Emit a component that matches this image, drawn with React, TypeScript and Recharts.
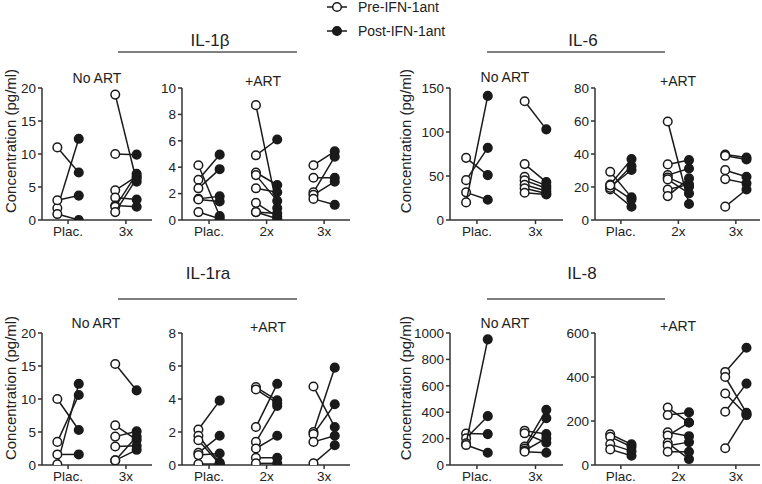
import { ScatterChart, Scatter, XAxis, YAxis } from 'recharts'

// group labels
const NO_ART_GROUPS = ['Plac.', '3x']
const ART_GROUPS = ['Plac.', '2x', '3x']

// y ticks
const IL1B_NOART_TICKS = [0, 5, 10, 15, 20]
const IL1B_ART_TICKS = [0, 2, 4, 6, 8, 10]
const IL6_NOART_TICKS = [0, 50, 100, 150]
const IL6_ART_TICKS = [0, 20, 40, 60, 80]
const IL1RA_NOART_TICKS = [0, 5, 10, 15, 20]
const IL1RA_ART_TICKS = [0, 2, 4, 6, 8]
const IL8_NOART_TICKS = [0, 200, 400, 600, 800, 1000]
const IL8_ART_TICKS = [0, 200, 400, 600]

// paired values per group: pre[g][i] -> post[g][i]
const IL1B_NOART_PRE = [[11.0, 1.8, 3.0, 0.9], [19.0, 10.0, 4.5, 3.4, 2.2, 2.0, 1.2]]
const IL1B_NOART_POST = [[7.2, 12.3, 3.7, 0.0], [5.8, 9.9, 6.6, 3.1, 2.0, 7.0, 6.3]]

const IL1B_ART_PRE = [[4.15, 3.05, 2.4, 1.6, 1.55, 0.6], [8.7, 4.9, 3.6, 3.4, 2.4, 1.3, 0.6, 0.6], [4.15, 3.2, 2.1, 1.9, 1.6]]
const IL1B_ART_POST = [[0.3, 4.95, 3.85, 1.8, 1.4, 0.1], [0.9, 6.1, 2.65, 1.45, 2.1, 0.25, 0.5, 0.1], [5.2, 3.2, 4.8, 2.9, 1.15]]

const IL6_NOART_PRE = [[70.6, 45.3, 31.4, 20.0], [135, 63.5, 49, 45, 40, 36, 31]]
const IL6_NOART_POST = [[51, 82, 23, 141], [103, 43, 39, 36, 33, 30, 29]]

const IL6_ART_PRE = [[29.2, 21.5, 20.0, 18.5, 19.5, 21.0], [59.7, 33.7, 27.2, 25.8, 24.6, 18.5, 14.5], [39.7, 38.9, 30.2, 24.8, 8.1]]
const IL6_ART_POST = [[13.7, 36.9, 30.3, 8.0, 32.7, 12.5], [9.7, 36.3, 31.2, 20.2, 16.1, 21.6, 25.2], [37.9, 36.7, 26.2, 22.2, 18.5]]

const IL1RA_NOART_PRE = [[10.0, 3.5, 0.1, 1.6], [15.3, 6.0, 4.3, 2.8, 0.7, 0.7]]
const IL1RA_NOART_POST = [[5.3, 10.6, 12.3, 1.6], [11.3, 3.8, 5.1, 2.9, 2.3, 4.3]]

const IL1RA_ART_PRE = [[2.15, 1.77, 1.5, 0.74, 0.6, 0.06], [4.72, 4.58, 2.3, 1.4, 1.0, 0.44, 0.1], [4.76, 2.0, 1.87, 1.4, 0.1]]
const IL1RA_ART_POST = [[3.9, 0.14, 0.06, 1.77, 0.7, 0.06], [3.92, 3.75, 4.92, 3.58, 1.77, 0.44, 0.1], [2.3, 5.9, 3.68, 1.77, 1.2]]

const IL8_NOART_PRE = [[239, 202, 164, 151], [260, 240, 140, 125, 110, 100]]
const IL8_NOART_POST = [[234, 370, 952, 93], [234, 169, 418, 355, 202, 93]]

const IL8_ART_PRE = [[140, 128, 95, 71], [261, 227, 149, 134, 101, 88, 60], [423, 400, 325, 242, 76]]
const IL8_ART_POST = [[94, 83, 63, 42], [193, 239, 131, 193, 27, 104, 60], [533, 237, 227, 370, 230]]

const INK = '#1a1a1a'
const AXIS = '#333'
const FONT = '"Liberation Sans", Arial, Helvetica, sans-serif'
const OFF = 0.185
const YW = 44
const PLOT_H = 132

function Dot(props: any) {
  const { cx, cy, payload } = props
  if (cx == null || cy == null) return null
  return (
    <circle cx={cx} cy={cy} r={4.3} fill={payload.post ? INK : '#fff'} stroke={INK} strokeWidth={1.5} />
  )
}

interface PanelProps {
  x: number
  y: number
  w: number
  domain: [number, number]
  groups: string[]
  ticks: number[]
  pre: number[][]
  post: number[][]
}

function Panel({ x, y, w, domain, groups, ticks, pre, post }: PanelProps) {
  const pairs = pre.flatMap((vals, g) =>
    vals.map((v, i) => [
      { x: g - OFF, y: v, post: false },
      { x: g + OFF, y: post[g][i], post: true },
    ])
  )
  const tickStyle = { fill: '#222', fontSize: 13.5, fontFamily: FONT }
  return (
    <div style={{ position: 'absolute', left: x - YW, top: y - 10 }}>
      <ScatterChart
        width={YW + w + 4}
        height={10 + PLOT_H + 30}
        margin={{ top: 10, right: 4, bottom: 0, left: 0 }}
      >
        <XAxis
          type="number"
          dataKey="x"
          domain={domain}
          allowDataOverflow
          ticks={groups.map((_, i) => i)}
          interval={0}
          tickFormatter={(i) => groups[i]}
          height={30}
          tick={tickStyle}
          tickSize={4}
          tickMargin={2}
          axisLine={{ stroke: AXIS, strokeWidth: 1.5 }}
          tickLine={{ stroke: AXIS, strokeWidth: 1.5 }}
        />
        <YAxis
          type="number"
          dataKey="y"
          domain={[0, ticks[ticks.length - 1]]}
          allowDataOverflow
          ticks={ticks}
          interval={0}
          width={YW}
          tick={tickStyle}
          tickSize={4}
          tickMargin={2}
          axisLine={{ stroke: AXIS, strokeWidth: 1.5 }}
          tickLine={{ stroke: AXIS, strokeWidth: 1.5 }}
        />
        {pairs.map((d, k) => (
          <Scatter
            key={k}
            data={d}
            line={{ stroke: INK, strokeWidth: 1.5 }}
            shape={Dot}
            isAnimationActive={false}
          />
        ))}
      </ScatterChart>
    </div>
  )
}

function Overlay() {
  const t = { fontFamily: FONT, fill: '#222', textAnchor: 'middle' as const, dominantBaseline: 'central' as const }
  return (
    <svg width={762} height={484} style={{ position: 'absolute', left: 0, top: 0 }}>
      {/* legend */}
      <line x1={327} x2={347} y1={7} y2={7} stroke={INK} strokeWidth={1.5} />
      <circle cx={337} cy={7} r={4.3} fill="#fff" stroke={INK} strokeWidth={1.5} />
      <text x={358} y={7} fontSize={14} fontFamily={FONT} fill="#222" dominantBaseline="central">Pre-IFN-1ant</text>
      <line x1={327} x2={347} y1={31} y2={31} stroke={INK} strokeWidth={1.5} />
      <circle cx={337} cy={31} r={4.3} fill={INK} stroke={INK} strokeWidth={1.5} />
      <text x={358} y={31} fontSize={14} fontFamily={FONT} fill="#222" dominantBaseline="central">Post-IFN-1ant</text>

      {/* cytokine titles */}
      <text x={210} y={40} fontSize={17} {...t}>IL-1β</text>
      <text x={583} y={40} fontSize={17} {...t}>IL-6</text>
      <text x={208} y={273} fontSize={17} {...t}>IL-1ra</text>
      <text x={582} y={273} fontSize={17} {...t}>IL-8</text>
      <line x1={118} x2={297} y1={52} y2={52} stroke="#555" strokeWidth={1.5} />
      <line x1={487} x2={665} y1={52} y2={52} stroke="#555" strokeWidth={1.5} />
      <line x1={118} x2={297} y1={299} y2={299} stroke="#555" strokeWidth={1.5} />
      <line x1={487} x2={665} y1={299} y2={299} stroke="#555" strokeWidth={1.5} />

      {/* ART subtitles */}
      <text x={97} y={78} fontSize={14} {...t}>No ART</text>
      <text x={263} y={81} fontSize={14} {...t}>+ART</text>
      <text x={505} y={77} fontSize={14} {...t}>No ART</text>
      <text x={678} y={81} fontSize={14} {...t}>+ART</text>
      <text x={96} y={323} fontSize={14} {...t}>No ART</text>
      <text x={268} y={327} fontSize={14} {...t}>+ART</text>
      <text x={505} y={323} fontSize={14} {...t}>No ART</text>
      <text x={678} y={326} fontSize={14} {...t}>+ART</text>

      {/* y axis labels */}
      {[[10, 141], [10, 388], [405, 141], [405, 388]].map(([x, y], i) => (
        <text key={i} x={x} y={y} fontSize={15} {...t} transform={`rotate(-90 ${x} ${y})`}>
          Concentration (pg/ml)
        </text>
      ))}
    </svg>
  )
}

export default function App() {
  return (
    <div style={{ position: 'absolute', left: 0, top: 0, width: 762, height: 484, background: '#fff' }}>
      <Overlay />
      <Panel x={42} y={88} w={110} domain={[-0.45, 1.45]} groups={NO_ART_GROUPS} ticks={IL1B_NOART_TICKS} pre={IL1B_NOART_PRE} post={IL1B_NOART_POST} />
      <Panel x={182} y={88} w={168} domain={[-0.47, 2.45]} groups={ART_GROUPS} ticks={IL1B_ART_TICKS} pre={IL1B_ART_PRE} post={IL1B_ART_POST} />
      <Panel x={450} y={88} w={113} domain={[-0.46, 1.47]} groups={NO_ART_GROUPS} ticks={IL6_NOART_TICKS} pre={IL6_NOART_PRE} post={IL6_NOART_POST} />
      <Panel x={595} y={88} w={165} domain={[-0.45, 2.42]} groups={ART_GROUPS} ticks={IL6_ART_TICKS} pre={IL6_ART_PRE} post={IL6_ART_POST} />

      <Panel x={42} y={333} w={110} domain={[-0.45, 1.45]} groups={NO_ART_GROUPS} ticks={IL1RA_NOART_TICKS} pre={IL1RA_NOART_PRE} post={IL1RA_NOART_POST} />
      <Panel x={182} y={333} w={168} domain={[-0.47, 2.45]} groups={ART_GROUPS} ticks={IL1RA_ART_TICKS} pre={IL1RA_ART_PRE} post={IL1RA_ART_POST} />
      <Panel x={450} y={333} w={113} domain={[-0.46, 1.47]} groups={NO_ART_GROUPS} ticks={IL8_NOART_TICKS} pre={IL8_NOART_PRE} post={IL8_NOART_POST} />
      <Panel x={595} y={333} w={165} domain={[-0.45, 2.42]} groups={ART_GROUPS} ticks={IL8_ART_TICKS} pre={IL8_ART_PRE} post={IL8_ART_POST} />
    </div>
  )
}
